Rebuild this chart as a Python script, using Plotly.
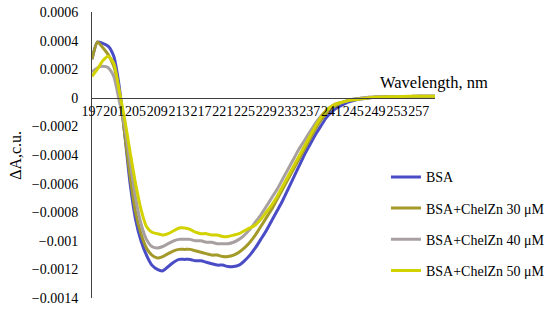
import plotly.graph_objects as go

wavelength = list(range(197, 261))

bsa = [0.00027, 0.00039, 0.00038, 0.00036, 0.00029, 0.00008, -0.00025, -0.00060, -0.00085, -0.00100,
       -0.00110, -0.00117, -0.00120, -0.00121, -0.00118, -0.00115, -0.00113, -0.00113, -0.00113, -0.00114,
       -0.00114, -0.00115, -0.00116, -0.00117, -0.00117, -0.00118, -0.00118, -0.00117, -0.00114, -0.00110,
       -0.00105, -0.00099, -0.00093, -0.00086, -0.00079, -0.00072, -0.00064, -0.00056, -0.00048, -0.00040,
       -0.00033, -0.00026, -0.00020, -0.00014, -0.00010, -0.00007, -0.00005, -0.00003, -0.00002, -0.00001,
       -0.000005, 0.0, 0.000003, 0.000005, 0.000006, 0.000007, 0.000008, 0.000008, 0.000009, 0.000009,
       0.00001, 0.00001, 0.00001, 0.00001]

chel30 = [0.00027, 0.00039, 0.00035, 0.00030, 0.00022, 0.00005, -0.00025, -0.00055, -0.00080, -0.00095,
          -0.00105, -0.00110, -0.00112, -0.00111, -0.00109, -0.00107, -0.00106, -0.00106, -0.00106, -0.00107,
          -0.00108, -0.00109, -0.00110, -0.00110, -0.00111, -0.00111, -0.00110, -0.00108, -0.00105, -0.00101,
          -0.00096, -0.00090, -0.00084, -0.00078, -0.00071, -0.00064, -0.00057, -0.00050, -0.00043, -0.00036,
          -0.00029, -0.00022, -0.00016, -0.00011, -0.00007, -0.00005, -0.00003, -0.00002, -0.00001, -0.000005,
          0.0, 0.000003, 0.000005, 0.000006, 0.000007, 0.000008, 0.000008, 0.000009, 0.000009, 0.00001,
          0.00001, 0.00001, 0.00001, 0.00001]

chel40 = [0.00018, 0.00021, 0.00022, 0.00021, 0.00015, -0.00002, -0.00020, -0.00045, -0.00070, -0.00088,
          -0.00099, -0.00104, -0.00105, -0.00104, -0.00102, -0.00100, -0.00099, -0.00099, -0.00099, -0.00100,
          -0.00100, -0.00101, -0.00101, -0.00102, -0.00102, -0.00102, -0.00101, -0.00099, -0.00096, -0.00092,
          -0.00087, -0.00082, -0.00076, -0.00070, -0.00064, -0.00057, -0.00050, -0.00043, -0.00036, -0.00030,
          -0.00024, -0.00018, -0.00013, -0.00009, -0.00006, -0.00004, -0.00003, -0.00002, -0.00001, -0.000005,
          0.0, 0.000003, 0.000005, 0.000006, 0.000007, 0.000008, 0.000008, 0.000009, 0.000009, 0.00001,
          0.00001, 0.00001, 0.00001, 0.00001]

chel50 = [0.00015, 0.00020, 0.00026, 0.00029, 0.00024, 0.00005, -0.00015, -0.00038, -0.00060, -0.00078,
          -0.00090, -0.00094, -0.00095, -0.00096, -0.00095, -0.00093, -0.00091, -0.00091, -0.00092, -0.00094,
          -0.00095, -0.00095, -0.00096, -0.00096, -0.00097, -0.00097, -0.00096, -0.00095, -0.00093, -0.00091,
          -0.00089, -0.00085, -0.00080, -0.00075, -0.00069, -0.00062, -0.00055, -0.00048, -0.00041, -0.00034,
          -0.00027, -0.00020, -0.00014, -0.00009, -0.00006, -0.00004, -0.00003, -0.00002, -0.000015, -0.00001,
          -0.000005, 0.0, 0.000003, 0.000005, 0.000006, 0.000007, 0.000008, 0.000009, 0.00001, 0.00001,
          0.00001, 0.00001, 0.00001, 0.00001]

series_names = ["BSA", "BSA+ChelZn 30 μM", "BSA+ChelZn 40 μM", "BSA+ChelZn 50 μM"]
series_values = [bsa, chel30, chel40, chel50]
series_colors = ["#4A4CC6", "#A39A2A", "#A8A0A0", "#D2D200"]

x_ticks = list(range(197, 258, 4))
y_ticks = [0.0006, 0.0004, 0.0002, 0, -0.0002, -0.0004, -0.0006, -0.0008, -0.001, -0.0012, -0.0014]
y_ticktext = ["0.0006", "0.0004", "0.0002", "0", "−0.0002", "−0.0004", "−0.0006", "−0.0008",
              "−0.001", "−0.0012", "−0.0014"]

FONT = "Liberation Serif, Times New Roman, DejaVu Serif, serif"

fig = go.Figure()
for i, (name, vals, col) in enumerate(zip(series_names, series_values, series_colors)):
    fig.add_trace(go.Scatter(
        x=wavelength, y=vals, name=name, mode="lines",
        line=dict(color=col, width=3, shape="spline", smoothing=0.6),
        legendgroup=f"g{i}",
    ))

fig.update_layout(
    width=550, height=310,
    margin=dict(l=92, r=115, t=12, b=12, autoexpand=False),
    paper_bgcolor="white", plot_bgcolor="white",
    font=dict(family=FONT, size=14, color="black"),
    showlegend=True,
    legend=dict(
        x=0.857, y=0.478, xanchor="left", yanchor="top",
        traceorder="grouped", tracegroupgap=10,
        font=dict(family=FONT, size=14, color="black"),
        bgcolor="rgba(0,0,0,0)",
    ),
    xaxis=dict(
        range=[197, 260], anchor="free", position=0.7,
        tickmode="array", tickvals=x_ticks, ticktext=[str(v) for v in x_ticks],
        tickangle=0, ticks="", showgrid=False, zeroline=False,
        showline=True, linecolor="#404040", linewidth=1,
        tickfont=dict(family=FONT, size=14, color="black"),
    ),
    yaxis=dict(
        range=[-0.0014, 0.0006],
        tickmode="array", tickvals=y_ticks, ticktext=y_ticktext,
        ticks="", showgrid=False, zeroline=False,
        showline=True, linecolor="#404040", linewidth=1,
        ticklabelstandoff=10,
        tickfont=dict(family=FONT, size=14, color="black"),
    ),
    annotations=[
        dict(text="Wavelength, nm", xref="paper", yref="y", x=0.835, y=0.000105,
             xanchor="left", yanchor="middle", showarrow=False,
             font=dict(family=FONT, size=16.5, color="black")),
        dict(text="ΔA,c.u.", xref="paper", yref="paper", x=-0.225, y=0.5,
             xanchor="center", yanchor="middle", textangle=-90, showarrow=False,
             font=dict(family=FONT, size=16, color="black")),
    ],
)

fig.write_html("out.html")
